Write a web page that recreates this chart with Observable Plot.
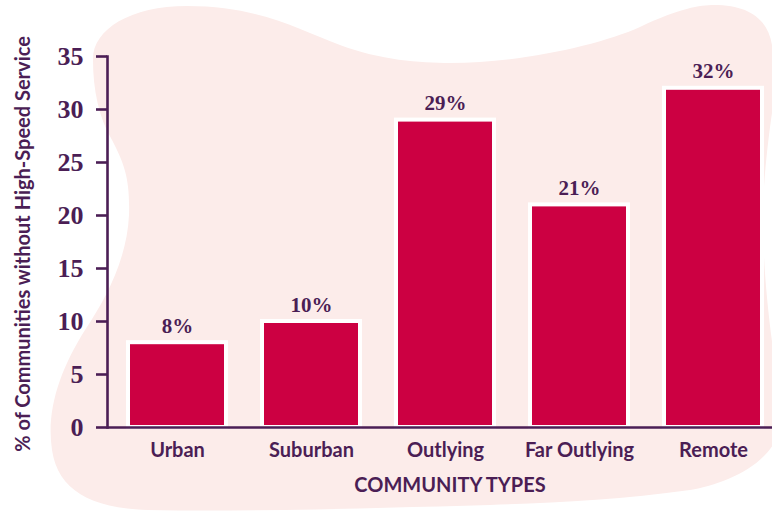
<!DOCTYPE html>
<html>
<head>
<meta charset="utf-8">
<script src="https://cdn.jsdelivr.net/npm/d3@7"></script>
<script src="https://cdn.jsdelivr.net/npm/@observablehq/plot@0.6"></script>
<style>
  html, body { margin: 0; padding: 0; background: #ffffff; }
  #wrap { position: relative; width: 772px; height: 512px; overflow: hidden; }
  #blob { position: absolute; left: 0; top: 0; }
  #chart { position: absolute; left: 0; top: 0; }
</style>
</head>
<body>
<div id="wrap">
  <svg id="blob" width="772" height="512" viewBox="0 0 772 512">
    <path fill="#fcecea" d="M 93 60
      C 92 30, 130 6, 187 6
      C 260 6, 300 30, 340 45
      C 380 60, 420 63, 450 63
      C 520 63, 600 45, 640 27
      C 680 8, 700 5, 714 5
      C 750 5, 768 20, 772 45
      L 774 100
      C 766 150, 762 200, 763 230
      C 764 280, 770 330, 776 370
      L 776 440
      C 760 470, 720 485, 690 490
      C 620 500, 550 503, 490 505
      C 380 508, 250 512, 148 510
      C 90 508, 58 490, 52 450
      C 46 410, 60 370, 85 330
      C 105 300, 127 260, 129 215
      C 130 180, 125 165, 112 140
      C 99 118, 93 90, 93 60 Z"/>
  </svg>
  <div id="chart"></div>
</div>
<script>
const categories = ["Urban", "Suburban", "Outlying", "Far Outlying", "Remote"];
const values = [8, 10, 29, 21, 32];
const valueLabels = ["8%", "10%", "29%", "21%", "32%"];
const yTicks = [0, 5, 10, 15, 20, 25, 30, 35];
const xTitle = "COMMUNITY TYPES";
const yTitle = "% of Communities without High-Speed Service";

const data = categories.map((c, i) => ({category: c, value: values[i], label: valueLabels[i]}));

const purple = "#4b1e55";
const crimson = "#cc0042";
const sans = "Lato, 'Open Sans', sans-serif";
const serif = "'Liberation Serif', 'DejaVu Serif', serif";

const chart = Plot.plot({
  width: 772,
  height: 512,
  marginTop: 56,
  marginBottom: 85,
  marginLeft: 107,
  marginRight: 0,
  style: {background: "transparent", color: purple, overflow: "visible"},
  x: {domain: categories, paddingInner: 0.27, paddingOuter: 0.109, align: 0.68, label: null},
  y: {domain: [0, 35], label: null},
  marks: [
    Plot.barY(data, {x: "category", y: "value", fill: crimson, stroke: "white", strokeWidth: 4}),
    Plot.axisY({ticks: yTicks, tickSize: 11, tickPadding: 13, stroke: purple, strokeWidth: 2.6,
      fill: purple, fontSize: 26, fontWeight: "bold", fontFamily: serif, label: null}),
    Plot.axisX({tickSize: 0, tickPadding: 15, fill: purple, fontSize: 20, fontWeight: "bold",
      fontFamily: sans, label: null}),
    Plot.frame({anchor: "left", stroke: purple, strokeWidth: 2.6}),
    Plot.ruleY([0], {stroke: purple, strokeWidth: 2.6}),
    Plot.text(data, {x: "category", y: "value", text: "label", lineAnchor: "bottom", dy: -10,
      fill: purple, fontSize: 21, fontWeight: "bold", fontFamily: serif}),
    Plot.text([xTitle], {frameAnchor: "bottom", text: d => d, lineAnchor: "bottom", dy: 64, dx: 10,
      fill: purple, fontSize: 20, fontWeight: "bold", fontFamily: sans}),
    Plot.text([yTitle], {frameAnchor: "left", text: d => d, rotate: -90, dx: -84, dy: 2,
      textAnchor: "middle", fill: purple, fontSize: 20, fontWeight: "bold", fontFamily: sans})
  ]
});
document.getElementById("chart").appendChild(chart);
</script>
</body>
</html>
